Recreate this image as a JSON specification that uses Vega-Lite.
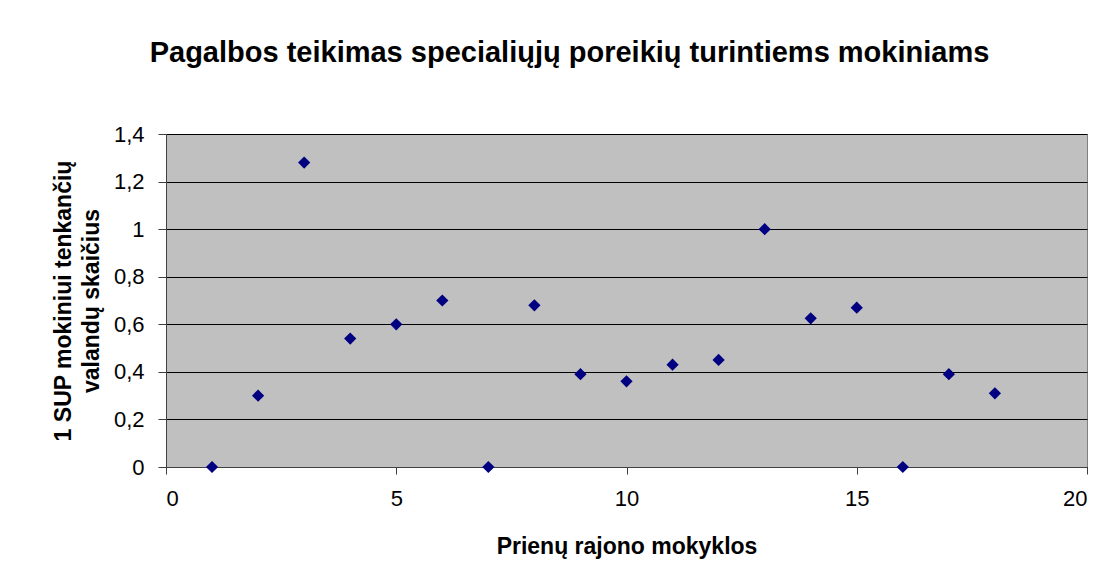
{
  "$schema": "https://vega.github.io/schema/vega-lite/v6.json",
  "width": 921,
  "height": 333,
  "autosize": {"type": "none"},
  "padding": {"left": 166, "top": 134, "right": 26, "bottom": 117},
  "background": "white",
  "config": {
    "locale": {"number": {"decimal": ",", "thousands": " ", "grouping": [3], "currency": ["", " €"]}},
    "font": "Liberation Sans",
    "view": {"fill": "#C0C0C0", "stroke": "#808080", "strokeWidth": 1}
  },
  "title": {
    "text": "Pagalbos teikimas specialiųjų poreikių turintiems mokiniams",
    "font": "Liberation Sans",
    "fontSize": 29,
    "fontWeight": "bold",
    "color": "black",
    "anchor": "middle",
    "dx": -57,
    "offset": 55
  },
  "data": {
    "values": [
      {"mokykla": 1, "valandos": 0},
      {"mokykla": 2, "valandos": 0.3},
      {"mokykla": 3, "valandos": 1.28},
      {"mokykla": 4, "valandos": 0.54},
      {"mokykla": 5, "valandos": 0.6},
      {"mokykla": 6, "valandos": 0.7},
      {"mokykla": 7, "valandos": 0},
      {"mokykla": 8, "valandos": 0.68},
      {"mokykla": 9, "valandos": 0.39},
      {"mokykla": 10, "valandos": 0.36},
      {"mokykla": 11, "valandos": 0.43},
      {"mokykla": 12, "valandos": 0.45},
      {"mokykla": 13, "valandos": 1.0},
      {"mokykla": 14, "valandos": 0.625},
      {"mokykla": 15, "valandos": 0.67},
      {"mokykla": 16, "valandos": 0},
      {"mokykla": 17, "valandos": 0.39},
      {"mokykla": 18, "valandos": 0.31}
    ]
  },
  "mark": {"type": "point", "shape": "diamond", "filled": true, "color": "#000080", "opacity": 1, "size": 150, "clip": false},
  "encoding": {
    "x": {
      "field": "mokykla",
      "type": "quantitative",
      "scale": {"domain": [0, 20], "nice": false},
      "axis": {
        "values": [0, 5, 10, 15, 20],
        "title": "Prienų rajono mokyklos",
        "titleFont": "Liberation Sans",
        "titleFontSize": 23,
        "titleFontWeight": "bold",
        "titleColor": "black",
        "titlePadding": 26,
        "labelFont": "Liberation Sans",
        "labelFontSize": 22,
        "labelColor": "black",
        "labelPadding": 14,
        "tickColor": "#404040",
        "tickSize": 7,
        "domainColor": "#404040",
        "grid": false
      }
    },
    "y": {
      "field": "valandos",
      "type": "quantitative",
      "scale": {"domain": [0, 1.4], "nice": false},
      "axis": {
        "values": [0, 0.2, 0.4, 0.6, 0.8, 1, 1.2, 1.4],
        "format": "~r",
        "title": ["1 SUP mokiniui tenkančių", "valandų skaičius"],
        "titleFont": "Liberation Sans",
        "titleFontSize": 23,
        "titleFontWeight": "bold",
        "titleColor": "black",
        "titleLineHeight": 28,
        "titlePadding": 10,
        "labelFont": "Liberation Sans",
        "labelFontSize": 22,
        "labelColor": "black",
        "labelPadding": 14,
        "tickColor": "#404040",
        "tickSize": 8,
        "domainColor": "#404040",
        "grid": true,
        "gridColor": "black",
        "gridWidth": 1
      }
    }
  }
}
